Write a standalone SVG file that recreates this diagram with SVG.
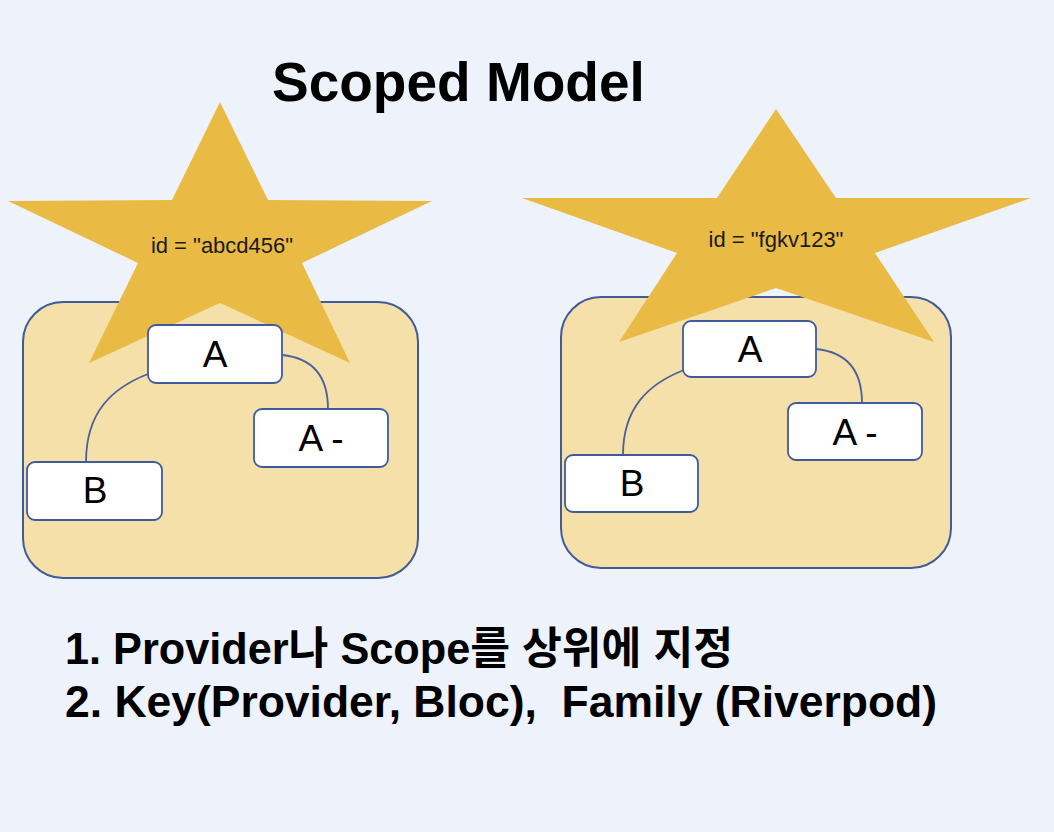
<svg xmlns="http://www.w3.org/2000/svg" width="1054" height="832" viewBox="0 0 1054 832">
<style>
.bg{fill:#EEF2FB}
.scope{fill:#F6E0AA;stroke:#3F5B9C;stroke-width:2}
.star{fill:#E9BB45;stroke:none}
.node{fill:#FFFFFF;stroke:#3F5B9C;stroke-width:1.8}
.conn{fill:none;stroke:#4A6299;stroke-width:1.8}
.lbl{font-family:"Liberation Sans",Arial,sans-serif;font-size:37px;fill:#000;text-anchor:middle}
.sid{font-family:"Liberation Sans",Arial,sans-serif;font-size:22px;fill:#1a1a1a;text-anchor:middle}
.title{font-family:"Liberation Sans",Arial,sans-serif;font-size:55px;font-weight:bold;fill:#000}
.note{font-family:"Liberation Sans",Arial,"Noto Sans CJK KR",sans-serif;font-size:44px;font-weight:bold;fill:#000;white-space:pre}
</style>
<rect class="bg" x="0" y="0" width="1054" height="832"/>
<g id="title"><text class="title" x="272" y="101">Scoped Model</text></g>

<g id="scope-left"><rect class="scope" x="23" y="302" width="395" height="276" rx="40"/></g>
<g id="scope-right"><rect class="scope" x="561" y="297" width="390" height="271" rx="40"/></g>

<g id="star-left">
<polygon class="star" points="220,102 268,200 432,201 302,263 350,363 220,303 89,363 138,263 8,201 172,200"/>
<text class="sid" x="222" y="253">id = "abcd456"</text>
</g>
<g id="star-right">
<polygon class="star" points="776,109 836,198 1031,198 875,253 934,342 776,288 619,342 677,253 522,198 717,198"/>
<text class="sid" x="776" y="247">id = "fgkv123"</text>
</g>

<g id="connectors">
<path class="conn" d="M148,374 C112,388 86,412 86,462"/>
<path class="conn" d="M282,355 C312,358 328,376 328,409"/>
<path class="conn" d="M684,370 C648,384 623,408 623,455"/>
<path class="conn" d="M816,349 C846,352 862,370 862,403"/>
</g>

<g id="node-left-A"><rect class="node" x="148" y="325" width="134" height="58" rx="8"/><text class="lbl" x="215" y="367">A</text></g>
<g id="node-left-Aminus"><rect class="node" x="254" y="409" width="134" height="58" rx="8"/><text class="lbl" x="321" y="451">A -</text></g>
<g id="node-left-B"><rect class="node" x="27" y="462" width="135" height="58" rx="8"/><text class="lbl" x="95" y="503">B</text></g>

<g id="node-right-A"><rect class="node" x="683" y="321" width="133" height="56" rx="8"/><text class="lbl" x="750" y="362">A</text></g>
<g id="node-right-Aminus"><rect class="node" x="788" y="403" width="134" height="57" rx="8"/><text class="lbl" x="855" y="445">A -</text></g>
<g id="node-right-B"><rect class="node" x="565" y="455" width="133" height="57" rx="8"/><text class="lbl" x="632" y="496">B</text></g>

<g id="notes">
<text class="note" x="65" y="664" textLength="668" lengthAdjust="spacingAndGlyphs">1. Provider나 Scope를 상위에 지정</text>
<text class="note" x="65" y="717" textLength="872" lengthAdjust="spacingAndGlyphs" xml:space="preserve">2. Key(Provider, Bloc),  Family (Riverpod)</text>
</g>
</svg>
